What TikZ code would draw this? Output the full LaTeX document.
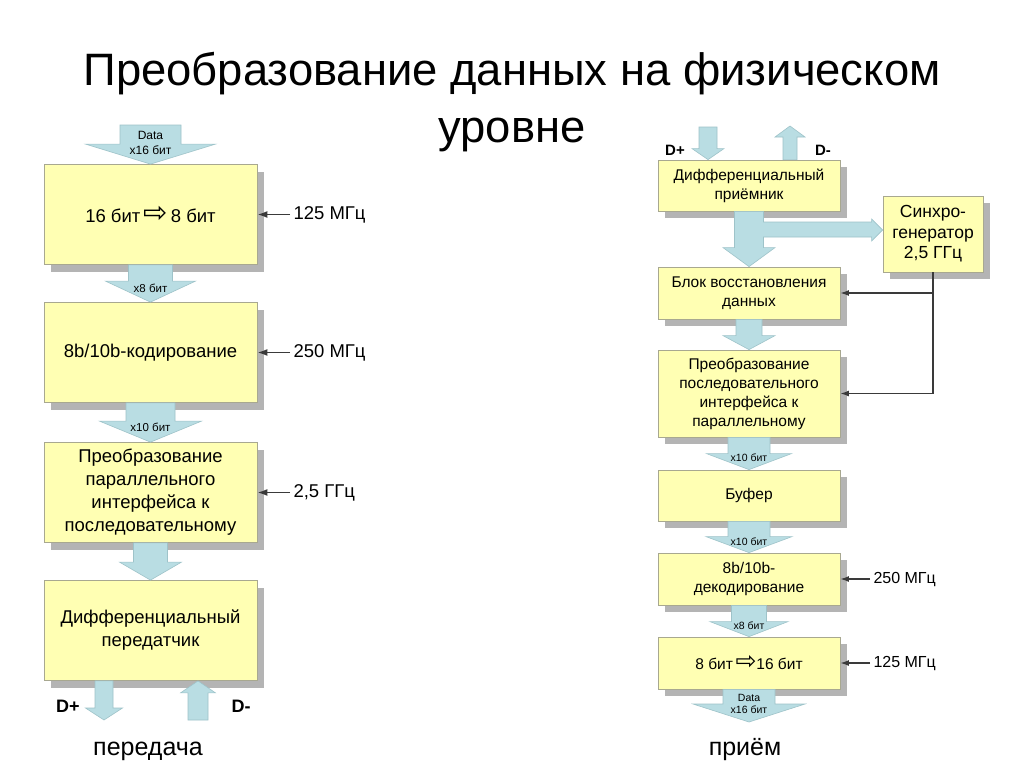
\documentclass[tikz,border=0pt]{standalone}
\usepackage{fontspec}
\setmainfont{Liberation Sans}
\newfontfamily\symfont{DejaVu Sans}
\usetikzlibrary{shadows,arrows.meta,calc}
\definecolor{boxfill}{HTML}{FFFFB3}
\definecolor{boxdraw}{HTML}{A8A890}
\definecolor{shadowgray}{HTML}{B4B4B4}
\definecolor{arrfill}{HTML}{B9DDE3}
\definecolor{arrdraw}{HTML}{9EC3C9}
\definecolor{clkline}{HTML}{3A3A3A}
\newcommand\fs[2]{\fontsize{#1}{#2}\selectfont}
\newcommand\hollowarr[1]{{\symfont\fontsize{#1}{#1}\selectfont ⇨}}
\newcommand\downarr[5]{%
 \draw[barrow] let \p1=(#1), \p2=(#2) in (\x1-#3,\y1) -- (\x1-#3,\y2+#5) -- (\x1-#4,\y2+#5) -- (\x1,\y2) -- (\x1+#4,\y2+#5) -- (\x1+#3,\y2+#5) -- (\x1+#3,\y1) -- cycle;}
\newcommand\uparr[5]{%
 \draw[barrow] let \p1=(#1), \p2=(#2) in (\x1-#3,\y1) -- (\x1-#3,\y2-#5) -- (\x1-#4,\y2-#5) -- (\x1,\y2) -- (\x1+#4,\y2-#5) -- (\x1+#3,\y2-#5) -- (\x1+#3,\y1) -- cycle;}
\tikzset{
 box/.style={draw=boxdraw, fill=boxfill, line width=0.8pt, general shadow={fill=shadowgray, shadow xshift=7pt, shadow yshift=-7pt}, align=center, inner sep=2pt},
 lbox/.style={box, minimum width=213pt, minimum height=100pt, font=\fs{18.5}{23}},
 rbox/.style={box, minimum width=182pt, font=\fs{15.5}{19}},
 barrow/.style={draw=arrdraw, fill=arrfill, line width=0.6pt},
 clk/.style={draw=clkline, line width=1.6pt, -{Latex[length=10pt,width=7pt]}},
 clkr/.style={draw=clkline, line width=1.3pt, -{Latex[length=8.5pt,width=6pt]}},
 lbl/.style={inner sep=0pt, align=center},
 dlbl/.style={inner sep=0pt, font=\bfseries\fs{18}{20}},
}
\begin{document}
\begin{tikzpicture}[x=1pt,y=-1pt]
\fill[white] (0,0) rectangle (1024,768);
\useasboundingbox (0,0) rectangle (1024,768);

\node[font=\fs{45.4}{57}, align=center, inner sep=0pt] (title) at (512,102.5) {Преобразование данных на физическом\\уровне};

% ---------- left: transmitter ----------
\node[lbox] (b1) at (150.5,214.5) {16 бит\,\hollowarr{29}\,8 бит};
\node[lbox] (b2) at (150.5,352.5) {8b/10b-кодирование};
\node[lbox] (b3) at (150.5,492.5) {Преобразование\\параллельного\\интерфейса к\\последовательному};
\node[lbox] (b4) at (150.5,630.5) {Дифференциальный\\передатчик};

\coordinate (dtop) at (150.5,125);
\coordinate (dpl) at (104,720);
\coordinate (dmn) at (198,720);
\downarr{dtop}{b1.north}{30.5pt}{65pt}{20pt}
\downarr{b1.south}{b2.north}{22pt}{45pt}{21pt}
\downarr{b2.south}{b3.north}{24.5pt}{51pt}{21pt}
\downarr{b3.south}{b4.north}{17pt}{31pt}{18pt}
\downarr{b4.south -| dpl}{dpl}{9pt}{18.5pt}{12pt}
\uparr{dmn}{b4.south -| dmn}{10pt}{17.5pt}{12pt}

\node[lbl, font=\fs{12}{14.5}] (ldata) at (150.5,143) {Data\\x16 бит};
\node[lbl, font=\fs{11.5}{13}] (lx8) at (150.5,288) {x8 бит};
\node[lbl, font=\fs{11.5}{13}] (lx10) at (150.5,427) {x10 бит};
\node[dlbl] (ldp) at (68,706) {D+};
\node[dlbl] (ldm) at (241,706) {D-};
\node[anchor=base, inner sep=0pt, font=\fs{25}{30}] (tx) at (148,755) {передача};

\node[anchor=west, font=\fs{18.5}{22}] (c1) at (290,214.5) {125 МГц};
\node[anchor=west, font=\fs{18.5}{22}] (c2) at (290,352.5) {250 МГц};
\node[anchor=west, font=\fs{18.5}{22}] (c3) at (290,492.5) {2,5 ГГц};
\draw[clk] (c1.west) -- (b1.east);
\draw[clk] (c2.west) -- (b2.east);
\draw[clk] (c3.west) -- (b3.east);

% ---------- right: receiver ----------
\node[rbox, minimum height=51pt] (r1) at (749,185.5) {Дифференциальный\\приёмник};
\node[box, minimum width=100pt, minimum height=76pt, font=\fs{17.5}{20.5}] (sync) at (933,234) {Синхро-\\генератор\\2,5 ГГц};
\node[rbox, minimum height=52pt] (r2) at (749,293) {Блок восстановления\\данных};
\node[rbox, minimum height=87pt] (r3) at (749,393.5) {Преобразование\\последовательного\\интерфейса к\\параллельному};
\node[rbox, minimum height=51pt] (r4) at (749,495.5) {Буфер};
\node[rbox, minimum height=52pt] (r5) at (749,579) {8b/10b-\\декодирование};
\node[rbox, minimum height=52pt] (r6) at (749,663) {8 бит\,\hollowarr{25}16 бит};

\coordinate (rdp) at (708,127);
\coordinate (rdm) at (790,126);
\coordinate (rdata) at (749,722);
\downarr{rdp}{r1.north -| rdp}{9pt}{16pt}{11pt}
\uparr{r1.north -| rdm}{rdm}{7pt}{15pt}{11pt}

\draw[barrow] let \p1=(r1.south), \p2=(r2.north), \p3=(sync.west) in
 (\x1-14.5pt,\y1) -- (\x1-14.5pt,\y2+19pt) -- (\x1-26pt,\y2+19pt) -- (\x1,\y2)
 -- (\x1+26pt,\y2+19pt) -- (\x1+14.5pt,\y2+19pt) -- (\x1+14.5pt,\y3-3pt)
 -- (\x3-11pt,\y3-3pt) -- (\x3-11pt,\y3-7pt) -- (\x3,\y3+4pt) -- (\x3-11pt,\y3+15pt)
 -- (\x3-11pt,\y3+12pt) -- (\x1+14.5pt,\y3+12pt) -- (\x1+14.5pt,\y1) -- cycle;

\downarr{r2.south}{r3.north}{13pt}{26pt}{14pt}
\downarr{r3.south}{r4.north}{21pt}{42.5pt}{16pt}
\downarr{r4.south}{r5.north}{21pt}{43pt}{16pt}
\downarr{r5.south}{r6.north}{17.5pt}{39pt}{15pt}
\downarr{r6.south}{rdata}{26pt}{56pt}{18pt}

\node[lbl, font=\fs{10.5}{12}] (rx10a) at (749,458) {x10 бит};
\node[lbl, font=\fs{10.5}{12}] (rx10b) at (749,542) {x10 бит};
\node[lbl, font=\fs{10.5}{12}] (rx8) at (749,626) {x8 бит};
\node[lbl, font=\fs{10.5}{12.5}] (rdat) at (749,704) {Data\\x16 бит};
\node[dlbl, font=\bfseries\fs{15}{17}] (rdpl) at (675,150) {D+};
\node[dlbl, font=\bfseries\fs{15}{17}] (rdml) at (823,150) {D-};
\node[anchor=base, inner sep=0pt, font=\fs{25}{30}] (rx) at (745,755) {приём};

\draw[clkr] (sync.south) |- (r3.east);
\draw[clkr] (sync.south |- r2.east) -- (r2.east);

\node[anchor=west, font=\fs{16}{19}] (c5) at (870,579) {250 МГц};
\node[anchor=west, font=\fs{16}{19}] (c6) at (870,663) {125 МГц};
\draw[clkr] (c5.west) -- (r5.east);
\draw[clkr] (c6.west) -- (r6.east);
\end{tikzpicture}
\end{document}
